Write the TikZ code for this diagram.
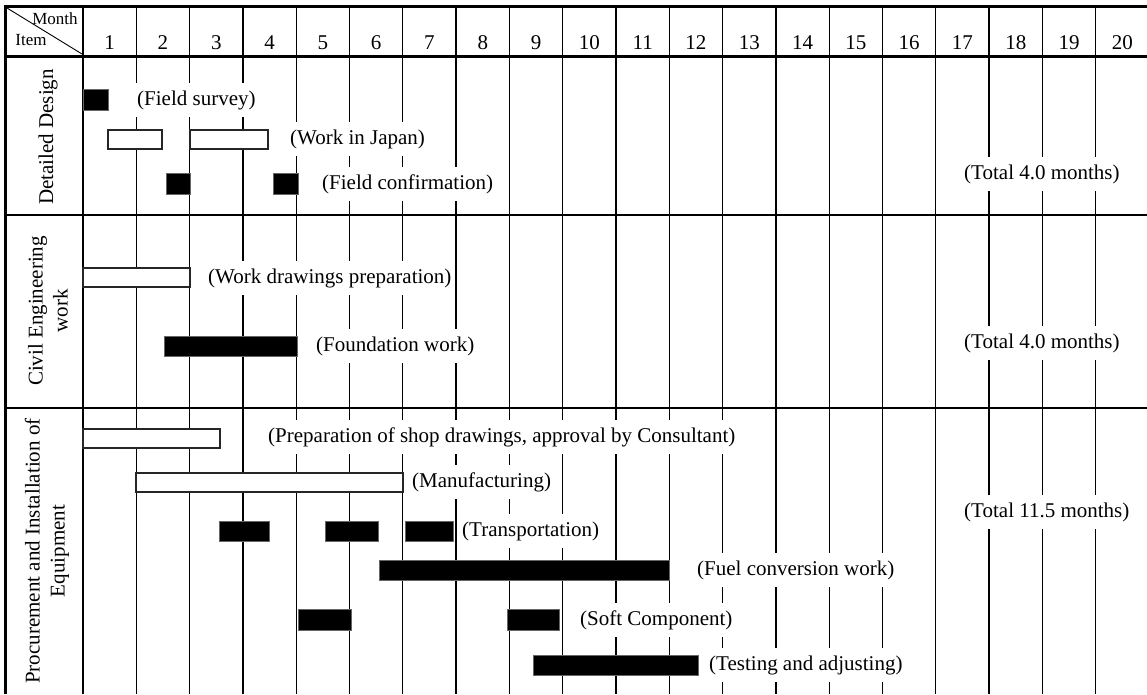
\documentclass[tikz,border=0pt]{standalone}
\usepackage{fontspec}
\setmainfont{Liberation Serif}
\begin{document}
\begin{tikzpicture}[x=1pt,y=-1pt,
  thinline/.style={line width=1.3pt,black},
  thickline/.style={line width=3pt,black},
  lbl/.style={anchor=west,fill=white,inner xsep=2pt,inner ysep=7pt,font=\fontsize{21}{25}\selectfont},
  total/.style={lbl},
  hdr/.style={font=\fontsize{21}{25}\selectfont,inner sep=1pt},
  small/.style={font=\fontsize{17}{20}\selectfont,inner sep=0pt},
  cat/.style={rotate=90,align=center,font=\fontsize{21}{25}\selectfont,inner sep=0pt},
  wbar/.style={draw=black!85,line width=1.6pt,fill=white},
  bbar/.style={draw=black!60,line width=0.8pt,fill=black}]
\useasboundingbox (0,0) rectangle (1147,694);
\clip (0,0) rectangle (1147,694);
\fill[white] (0,0) rectangle (1147,694);
% vertical grid lines
\foreach \k in {0,...,19}{
  \draw[thinline] ({83+\k*53.3},6) -- ({83+\k*53.3},694);
}
% month numbers
\foreach \k in {1,...,20}{
  \node[hdr] (m\k) at ({83+(\k-0.5)*53.3},43) {\k};
}
% horizontal lines
\draw[thinline] (5,215) -- (1147,215);
\draw[thinline] (5,408) -- (1147,408);
\draw[thickline] (3.5,6) -- (1147,6);
\draw[thickline] (5,56) -- (1147,56);
\draw[thickline] (5,4.5) -- (5,694);
% header corner
\coordinate (dA) at (7,8);
\coordinate (dB) at (82,54);
\draw[line width=0.9pt] (dA) -- (dB);
\node[small] (month) at (55,19) {Month};
\node[small] (item) at (31,40) {Item};
% category labels
\node[cat] (c1) at (48,137) {Detailed Design};
\node[cat] (c2) at (48,311) {Civil Engineering\\work};
\node[cat] (c3) at (47,551) {Procurement and Installation of\\Equipment};
% Section 1 bars
\draw[bbar] (83,89) rectangle (108,110);
\draw[wbar] (108,130) rectangle (162,149);
\draw[wbar] (190,130) rectangle (268,149);
\draw[bbar] (166,173) rectangle (190,194);
\draw[bbar] (273,173) rectangle (298,194);
% Section 2 bars
\draw[wbar] (83,268) rectangle (190,287);
\draw[bbar] (164,336) rectangle (297,356);
% Section 3 bars
\draw[wbar] (83,429) rectangle (220,448);
\draw[wbar] (136,473) rectangle (403,492);
\draw[bbar] (219,521) rectangle (269,541);
\draw[bbar] (325,521) rectangle (378,541);
\draw[bbar] (405,521) rectangle (453,541);
\draw[bbar] (379,560) rectangle (669,580);
\draw[bbar] (298,609) rectangle (351,630);
\draw[bbar] (507,609) rectangle (559,630);
\draw[bbar] (533,655) rectangle (698,675);
% labels
\node[lbl] (t1) at (135,100) {(Field survey)};
\node[lbl] (t2) at (288,139) {(Work in Japan)};
\node[lbl] (t3) at (320,184) {(Field confirmation)};
\node[total] (tot1) at (962,174) {(Total 4.0 months)};
\node[lbl] (t4) at (206,278) {(Work drawings preparation)};
\node[lbl] (t5) at (314,346) {(Foundation work)};
\node[total] (tot2) at (962,343) {(Total 4.0 months)};
\node[lbl] (t6) at (266,437) {(Preparation of shop drawings, approval by Consultant)};
\node[lbl] (t7) at (410,482) {(Manufacturing)};
\node[lbl] (t8) at (460,531) {(Transportation)};
\node[lbl] (t9) at (695,570) {(Fuel conversion work)};
\node[lbl] (t10) at (578,620) {(Soft Component)};
\node[lbl] (t11) at (707,665) {(Testing and adjusting)};
\node[total] (tot3) at (962,512) {(Total 11.5 months)};
\end{tikzpicture}
\end{document}
